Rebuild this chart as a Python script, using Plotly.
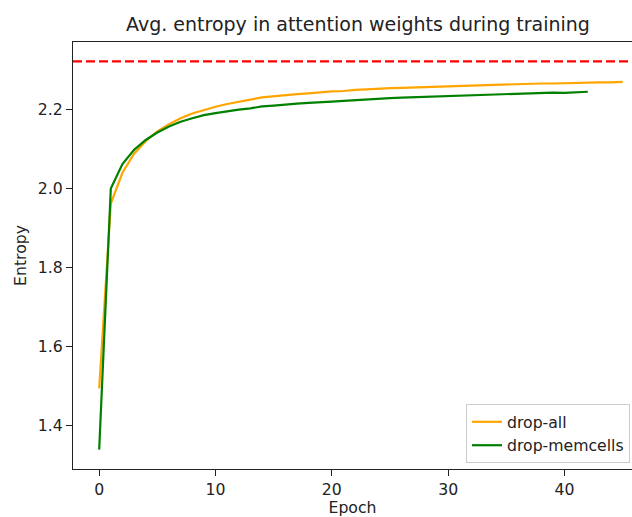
import math
import plotly.graph_objects as go

# Average attention-weight entropy per epoch for the two dropout variants
drop_all = [
    1.494, 1.962, 2.040, 2.088, 2.120, 2.145, 2.163, 2.178, 2.190, 2.199,
    2.207, 2.214, 2.219, 2.225, 2.231, 2.234, 2.237, 2.239, 2.241, 2.244,
    2.246, 2.247, 2.250, 2.251, 2.253, 2.254, 2.255, 2.256, 2.257, 2.258,
    2.259, 2.260, 2.261, 2.262, 2.263, 2.264, 2.264, 2.265, 2.266, 2.266,
    2.267, 2.268, 2.268, 2.269, 2.269, 2.270,
]
drop_memcells = [
    1.339, 2.000, 2.062, 2.098, 2.123, 2.142, 2.157, 2.169, 2.178, 2.186,
    2.191, 2.196, 2.200, 2.203, 2.208, 2.210, 2.213, 2.215, 2.217, 2.218,
    2.220, 2.222, 2.224, 2.226, 2.227, 2.229, 2.230, 2.231, 2.232, 2.233,
    2.234, 2.235, 2.236, 2.238, 2.239, 2.240, 2.241, 2.242, 2.242, 2.243,
    2.242, 2.244, 2.245,
]
epochs_all = list(range(len(drop_all)))
epochs_mem = list(range(len(drop_memcells)))

# Maximum possible entropy (uniform attention over 5 cells)
max_entropy = math.log2(5)

x_ticks = [0, 10, 20, 30, 40]
y_ticks = [1.4, 1.6, 1.8, 2.0, 2.2]

FONT = "DejaVu Sans"
TEXT = "#222222"
BASE = 15.7

fig = go.Figure()
fig.add_trace(go.Scatter(
    x=epochs_all, y=drop_all, mode="lines", name="drop-all",
    line=dict(color="orange", width=2.2),
))
fig.add_trace(go.Scatter(
    x=epochs_mem, y=drop_memcells, mode="lines", name="drop-memcells",
    line=dict(color="green", width=2.2),
))
fig.add_hline(y=max_entropy, line=dict(color="red", width=2.2, dash="9px,4px"))

fig.update_layout(
    width=632, height=517,
    margin=dict(l=73, r=0, t=42, b=48),
    paper_bgcolor="white", plot_bgcolor="white",
    font=dict(family=FONT, size=BASE, color=TEXT),
    title=dict(
        text="Avg. entropy in attention weights during training",
        x=358 / 632, xref="container", xanchor="center",
        y=1 - 24 / 517, yref="container", yanchor="middle",
        font=dict(family=FONT, size=19, color=TEXT),
    ),
    showlegend=True,
    legend=dict(
        x=0.703, y=0.152, xanchor="left", yanchor="top",
        bgcolor="rgba(255,255,255,0.8)", bordercolor="#cccccc", borderwidth=1,
        font=dict(family=FONT, size=BASE, color=TEXT),
        tracegroupgap=0,
    ),
    xaxis=dict(
        range=[-2.25, 45.8], tickvals=x_ticks,
        ticks="outside", ticklen=6, tickcolor="#222222", tickwidth=1,
        showline=True, linecolor="#222222", linewidth=1.3, mirror=True,
        showgrid=False, zeroline=False,
        title=dict(text="Epoch", standoff=7, font=dict(size=BASE)),
    ),
    yaxis=dict(
        range=[1.29, 2.371], tickvals=y_ticks, tickformat=".1f",
        ticks="outside", ticklen=6, tickcolor="#222222", tickwidth=1,
        showline=True, linecolor="#222222", linewidth=1.3, mirror=False,
        showgrid=False, zeroline=False,
        title=dict(text="Entropy", standoff=7, font=dict(size=BASE)),
    ),
)

fig.write_html("out.html")
